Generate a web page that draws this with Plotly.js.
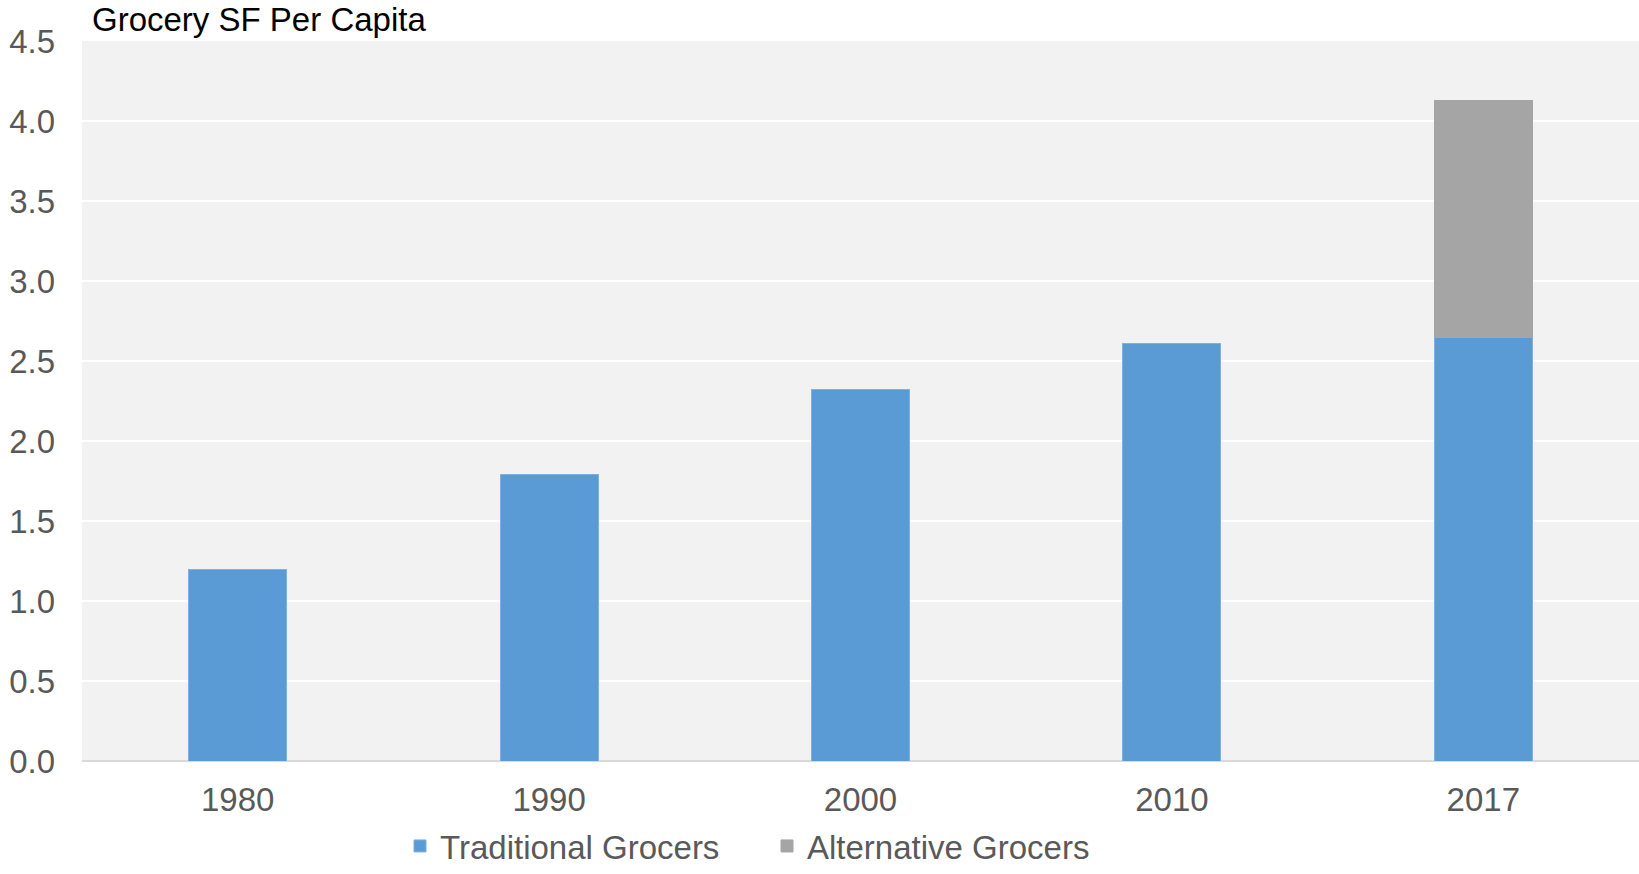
<!DOCTYPE html>
<html>
<head>
<meta charset="utf-8">
<script src="https://cdn.plot.ly/plotly-3.0.1.min.js"></script>
<style>
  html, body { margin: 0; padding: 0; background: #ffffff; }
  #chart { width: 1639px; height: 874px; }
</style>
</head>
<body>
<div id="chart"></div>
<script>
const years = ['1980', '1990', '2000', '2010', '2017'];
const traditionalGrocers = [1.20, 1.79, 2.32, 2.61, 2.65];
const alternativeGrocers = [null, null, null, null, 1.48];
const yTickValues = [0, 0.5, 1, 1.5, 2, 2.5, 3, 3.5, 4, 4.5];
const yTickLabels = ['0.0', '0.5', '1.0', '1.5', '2.0', '2.5', '3.0', '3.5', '4.0', '4.5'];

const FONT = 'Liberation Sans, Arial, sans-serif';

const data = [
  {
    type: 'bar', name: 'Traditional Grocers', x: years, y: traditionalGrocers,
    marker: { color: '#5b9bd5', line: { color: '#7fb0e0', width: 1 } }
  },
  {
    type: 'bar', name: 'Alternative Grocers', x: years, y: alternativeGrocers,
    marker: { color: '#a5a5a5', line: { color: '#a5a5a5', width: 1 } }
  }
];

const layout = {
  width: 1639, height: 874,
  margin: { l: 82, r: 0, t: 41, b: 113 },
  paper_bgcolor: '#ffffff',
  plot_bgcolor: '#f2f2f2',
  barmode: 'stack',
  bargap: 0.685,
  font: { family: FONT, size: 33, color: '#595959' },
  title: {
    text: 'Grocery SF Per Capita',
    font: { family: FONT, size: 33, color: '#000000' },
    xref: 'container', yref: 'container',
    x: 92 / 1639, xanchor: 'left',
    y: 1 - 19 / 874, yanchor: 'middle'
  },
  xaxis: {
    type: 'category',
    showgrid: false,
    zeroline: false,
    showline: false,
    ticks: '',
    ticklabelstandoff: 16,
    tickfont: { family: FONT, size: 33, color: '#595959' }
  },
  yaxis: {
    range: [0, 4.5],
    tickvals: yTickValues,
    ticktext: yTickLabels,
    showgrid: true,
    gridcolor: '#ffffff',
    gridwidth: 1.5,
    zeroline: true,
    zerolinecolor: '#d9d9d9',
    zerolinewidth: 2,
    showline: false,
    ticks: '',
    ticklabelstandoff: 26,
    tickfont: { family: FONT, size: 33, color: '#595959' }
  },
  showlegend: true,
  legend: {
    orientation: 'h',
    xref: 'container', yref: 'container',
    x: 400 / 1639, xanchor: 'left',
    y: -6 / 874, yanchor: 'bottom',
    entrywidth: 322,
    entrywidthmode: 'pixels',
    font: { family: FONT, size: 33, color: '#595959' },
    bgcolor: 'rgba(0,0,0,0)',
    traceorder: 'normal'
  }
};

Plotly.newPlot('chart', data, layout, { displayModeBar: false, staticPlot: true });
</script>
</body>
</html>
